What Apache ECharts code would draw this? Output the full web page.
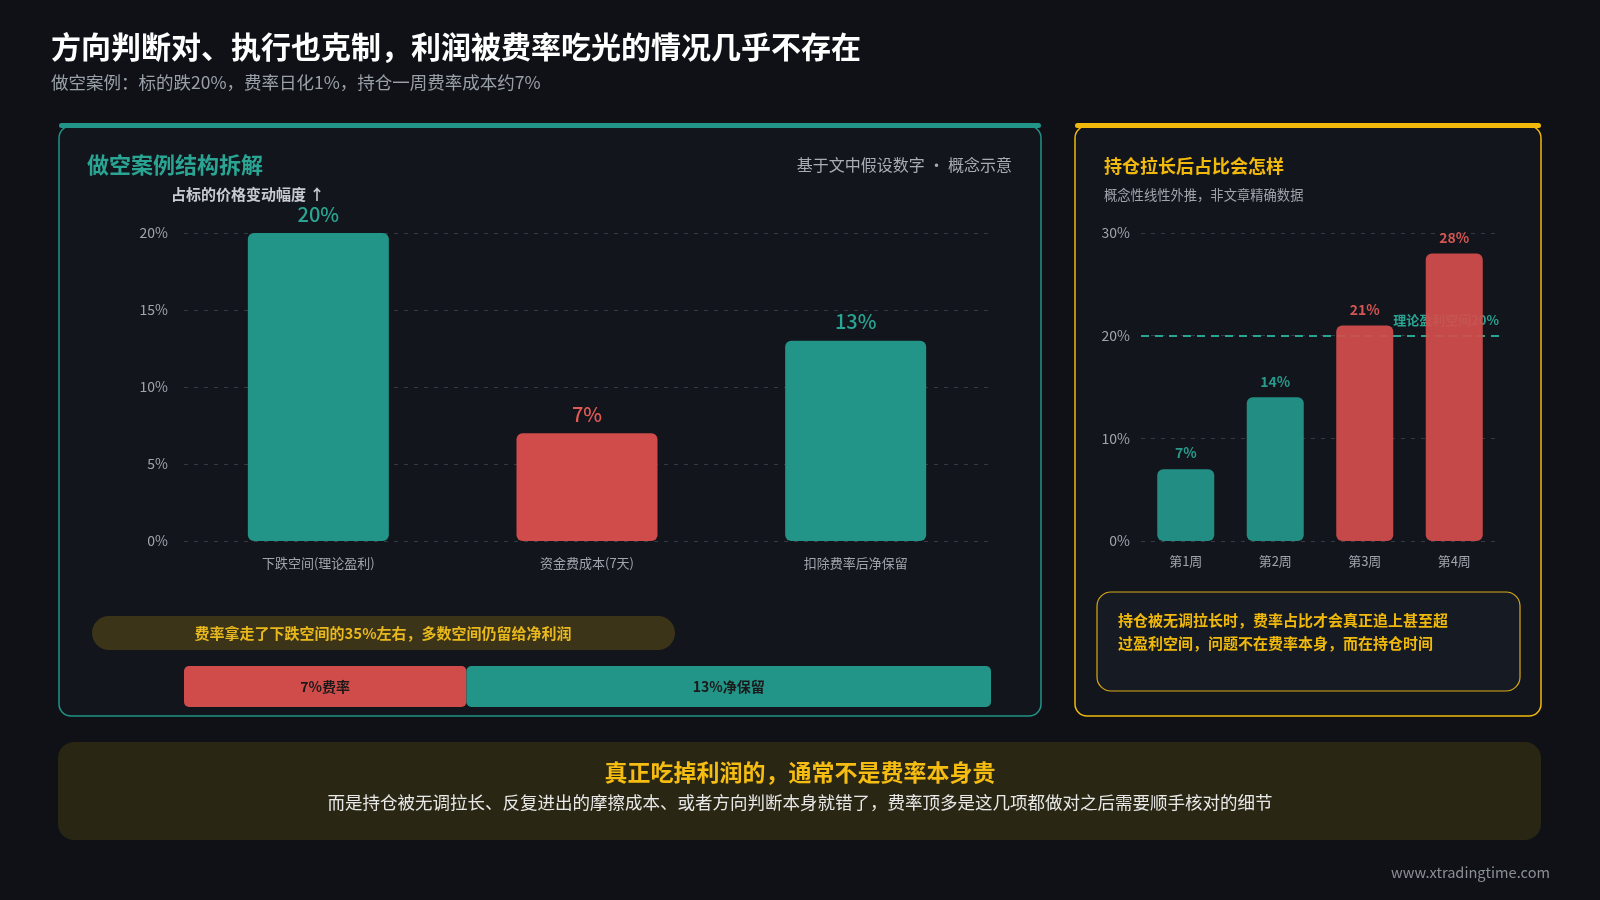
<!DOCTYPE html>
<html><head><meta charset="utf-8">
<script src="https://cdn.jsdelivr.net/npm/echarts@6/dist/echarts.min.js"></script>
<style>html,body{margin:0;padding:0;background:#0f1117;}#c{width:1600px;height:900px;}</style>
</head><body><div id="c"></div>
<script>
const leftCats = ['下跌空间(理论盈利)', '资金费成本(7天)', '扣除费率后净保留'];
const leftVals = [20, 7, 13];
const leftTicks = [0, 5, 10, 15, 20];
const rightCats = ['第1周', '第2周', '第3周', '第4周'];
const rightVals = [7, 14, 21, 28];
const rightTicks = [0, 10, 20, 30];
const profitLine = 20;
const splitNames = ['7%费率', '13%净保留'];
const splitVals = [7, 13];

const FONT = '"Noto Sans CJK SC", "Noto Sans", sans-serif';
const TEAL = '#229488', RED = '#d04c4a', YEL = '#f0b90b', TEAL_T = '#2aa593', RED_T = '#e35a55';

const chart = echarts.init(document.getElementById('c'));
function txt(x, y, text, size, color, weight, align, extra) {
  return Object.assign({ type: 'text', x: x, y: y, silent: true, style: { text: text, font: (weight || 'normal') + ' ' + size + 'px ' + FONT, fill: color, textAlign: align || 'left', textVerticalAlign: 'middle' } }, extra || {});
}
const graphics = [
  { type: 'rect', shape: { x: 59, y: 126, width: 982, height: 590, r: 12 }, style: { fill: '#12151c', stroke: TEAL, lineWidth: 1.5 }, z: -10 },
  { type: 'rect', shape: { x: 59, y: 123, width: 982, height: 5, r: 3 }, style: { fill: TEAL }, z: -9 },
  { type: 'rect', shape: { x: 1075, y: 126, width: 466, height: 590, r: 12 }, style: { fill: '#12151c', stroke: YEL, lineWidth: 1.5 }, z: -10 },
  { type: 'rect', shape: { x: 1075, y: 123, width: 466, height: 5, r: 3 }, style: { fill: YEL }, z: -9 },
  { type: 'rect', shape: { x: 92, y: 616, width: 583, height: 34, r: 17 }, style: { fill: '#3b3418' }, z: -8 },
  { type: 'rect', shape: { x: 1097, y: 592, width: 423, height: 99, r: 14 }, style: { fill: '#161a22', stroke: '#d9a916', lineWidth: 1.2 }, z: -8 },
  { type: 'rect', shape: { x: 58, y: 742, width: 1483, height: 98, r: 16 }, style: { fill: '#2a2614' }, z: -10 },
  txt(51, 47, '方向判断对、执行也克制，利润被费率吃光的情况几乎不存在', 30, '#ffffff', 'bold'),
  txt(51, 82, '做空案例：标的跌20%，费率日化1%，持仓一周费率成本约7%', 17.5, '#9aa0a8'),
  txt(87, 165, '做空案例结构拆解', 22, TEAL_T, 'bold'),
  txt(1012, 165, '基于文中假设数字 · 概念示意', 16, '#a8adb4', 'normal', 'right'),
  txt(171, 194, '占标的价格变动幅度 ↑', 15, '#c8ccd2', 'bold'),
  txt(383, 633, '费率拿走了下跌空间的35%左右，多数空间仍留给净利润', 15, '#e8b81c', 'bold', 'center'),
  txt(1104, 166, '持仓拉长后占比会怎样', 18, YEL, 'bold'),
  txt(1104, 195, '概念性线性外推，非文章精确数据', 13.3, '#a0a5ac'),
  txt(1118, 620, '持仓被无调拉长时，费率占比才会真正追上甚至超', 15, '#f0b90b', 'bold'),
  txt(1118, 643, '过盈利空间，问题不在费率本身，而在持仓时间', 15, '#f0b90b', 'bold'),
  txt(800, 772, '真正吃掉利润的，通常不是费率本身贵', 23, '#f5bd12', 'bold', 'center'),
  txt(800, 802, '而是持仓被无调拉长、反复进出的摩擦成本、或者方向判断本身就错了，费率顶多是这几项都做对之后需要顺手核对的细节', 17.5, '#e8e8e8', 'normal', 'center'),
  txt(1550, 872, 'www.xtradingtime.com', 14.6, '#8a8f96', 'normal', 'right')
];

const axisLabel = { color: '#a0a5ac', fontSize: 14, fontFamily: FONT, formatter: '{value}%' };
const splitLine = { show: true, lineStyle: { color: '#343943', type: [4, 6], width: 1 } };

const option = {
  backgroundColor: '#0f1117',
  animation: false,
  textStyle: { fontFamily: FONT },
  graphic: graphics,
  grid: [
    { left: 184, right: 610, top: 233, bottom: 359, containLabel: false },
    { left: 1141, right: 101, top: 233, bottom: 359, containLabel: false },
    { left: 184, width: 807, top: 666, height: 41, containLabel: false }
  ],
  xAxis: [
    { gridIndex: 0, type: 'category', data: leftCats, axisLine: { show: false }, axisTick: { show: false }, axisLabel: { color: '#a0a5ac', fontSize: 13, margin: 16 } },
    { gridIndex: 1, type: 'category', data: rightCats, axisLine: { show: false }, axisTick: { show: false }, axisLabel: { color: '#a0a5ac', fontSize: 13, margin: 14 } },
    { gridIndex: 2, type: 'value', min: 0, max: splitVals[0] + splitVals[1], show: false }
  ],
  yAxis: [
    { gridIndex: 0, type: 'value', min: leftTicks[0], max: leftTicks[leftTicks.length - 1], interval: leftTicks[1] - leftTicks[0], axisLine: { show: false }, axisTick: { show: false }, axisLabel: Object.assign({ margin: 16 }, axisLabel), splitLine: splitLine },
    { gridIndex: 1, type: 'value', min: rightTicks[0], max: rightTicks[rightTicks.length - 1], interval: rightTicks[1] - rightTicks[0], axisLine: { show: false }, axisTick: { show: false }, axisLabel: Object.assign({ margin: 11 }, axisLabel), splitLine: splitLine },
    { gridIndex: 2, type: 'category', data: ['split'], show: false }
  ],
  series: [
    {
      type: 'bar', xAxisIndex: 0, yAxisIndex: 0, barWidth: 141, z: 2,
      data: leftVals.map((v, i) => ({
        value: v,
        itemStyle: { color: i === 1 ? RED : TEAL, borderRadius: 6 },
        label: { color: i === 1 ? RED_T : TEAL_T }
      })),
      label: { show: true, position: 'top', distance: 9, fontSize: 20, fontWeight: 500, formatter: '{c}%' }
    },
    {
      type: 'line', xAxisIndex: 1, yAxisIndex: 1, data: [], z: 1, symbol: 'none',
      markLine: {
        silent: true, symbol: 'none', z: 1,
        lineStyle: { color: TEAL_T, type: [8, 6], width: 2 },
        label: { show: true, position: 'insideEndTop', distance: [0, 9], formatter: '理论盈利空间' + profitLine + '%', color: TEAL_T, fontSize: 13, fontWeight: 'bold' },
        data: [{ yAxis: profitLine }]
      }
    },
    {
      type: 'bar', xAxisIndex: 1, yAxisIndex: 1, barWidth: 57, z: 2,
      data: rightVals.map(v => ({
        value: v,
        itemStyle: { color: v > profitLine ? '#d24e4b' : '#23988b', borderRadius: 6, opacity: 0.93 },
        label: { color: v > profitLine ? RED_T : TEAL_T }
      })),
      label: { show: true, position: 'top', distance: 9, fontSize: 14, fontWeight: 'bold', formatter: '{c}%' }
    },
    {
      type: 'bar', xAxisIndex: 2, yAxisIndex: 2, stack: 's', barWidth: 41, name: splitNames[0],
      data: [splitVals[0]],
      itemStyle: { color: RED, borderRadius: 5 },
      label: { show: true, position: 'inside', formatter: splitNames[0], color: '#1a1a1a', fontSize: 14, fontWeight: 'bold' }
    },
    {
      type: 'bar', xAxisIndex: 2, yAxisIndex: 2, stack: 's', barWidth: 41, name: splitNames[1],
      data: [splitVals[1]],
      itemStyle: { color: TEAL, borderRadius: 5 },
      label: { show: true, position: 'inside', formatter: splitNames[1], color: '#1a1a1a', fontSize: 14, fontWeight: 'bold' }
    }
  ]
};
chart.setOption(option);
</script>
</body></html>
